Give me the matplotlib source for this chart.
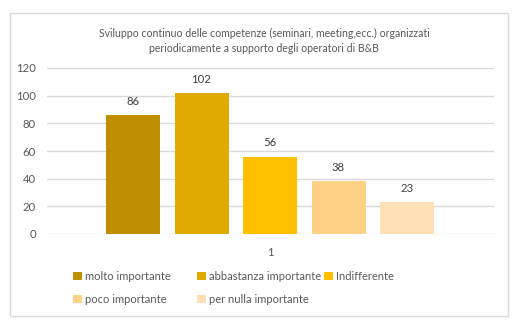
import matplotlib
matplotlib.use("Agg")
import matplotlib.pyplot as plt
from matplotlib.patches import Rectangle, Patch

categories = ["molto importante", "abbastanza importante", "Indifferente",
              "poco importante", "per nulla importante"]
values = [86, 102, 56, 38, 23]
colors = ["#BF8F00", "#E1AA00", "#FFC000", "#FFD186", "#FFE0B6"]
yticks = [0, 20, 40, 60, 80, 100, 120]
group_label = "1"
title = ("Sviluppo continuo delle competenze (seminari, meeting,ecc.) organizzati\n"
         "periodicamente a supporto degli operatori di B&B")

W, H = 532, 334
fig = plt.figure(figsize=(W / 100, H / 100), dpi=100)
plt.rcParams['font.family'] = ['Lato', 'DejaVu Sans']
txt = "#595959"

# chart border
fig.add_artist(Rectangle((9.5 / W, 1 - 316 / H), (508 - 9.5) / W, (316 - 13) / H,
                         transform=fig.transFigure, fill=False,
                         edgecolor="#D9D9D9", linewidth=1))

ax = fig.add_axes([47 / W, 1 - 234 / H, (494 - 47) / W, (234 - 68) / H])
xs = list(range(len(values)))
bars = ax.bar(xs, values, width=54 / 68.5, color=colors, zorder=3)
for x, v in zip(xs, values):
    ax.annotate(str(v), (x, v), xytext=(0, 6), textcoords="offset points",
                ha="center", va="bottom", fontsize=8.2, color="#404040")

ax.set_xlim((47 - 133) / 68.5, (494 - 133) / 68.5)
ax.set_ylim(0, 120)
ax.set_yticks(yticks)
ax.set_xticks([2])
ax.set_xticklabels([group_label])
ax.tick_params(axis="both", length=0, labelsize=8.2, colors=txt)
ax.tick_params(axis="x", pad=9)
ax.tick_params(axis="y", pad=8)
ax.grid(axis="y", color="#D9D9D9", linewidth=1, zorder=0)
for s in ax.spines.values():
    s.set_visible(False)

fig.text(264 / W, 1 - 41 / H, title, ha="center", va="center", fontsize=7.6,
         color=txt, linespacing=1.45)

# legend, three columns placed like the original
handles = [Patch(facecolor=c, edgecolor="none") for c in colors]
cols = [([0, 3], 73), ([1, 4], 197), ([2], 324)]
for idx, xpx in cols:
    leg = fig.legend([handles[i] for i in idx], [categories[i] for i in idx],
                     loc="upper left", bbox_to_anchor=(xpx / W, 1 - 271 / H),
                     frameon=False, fontsize=8, handlelength=0.8,
                     handleheight=0.8, handletextpad=0.3, labelspacing=1.05,
                     borderpad=0, borderaxespad=0, labelcolor=txt)

fig.savefig("out.png", dpi=100)
